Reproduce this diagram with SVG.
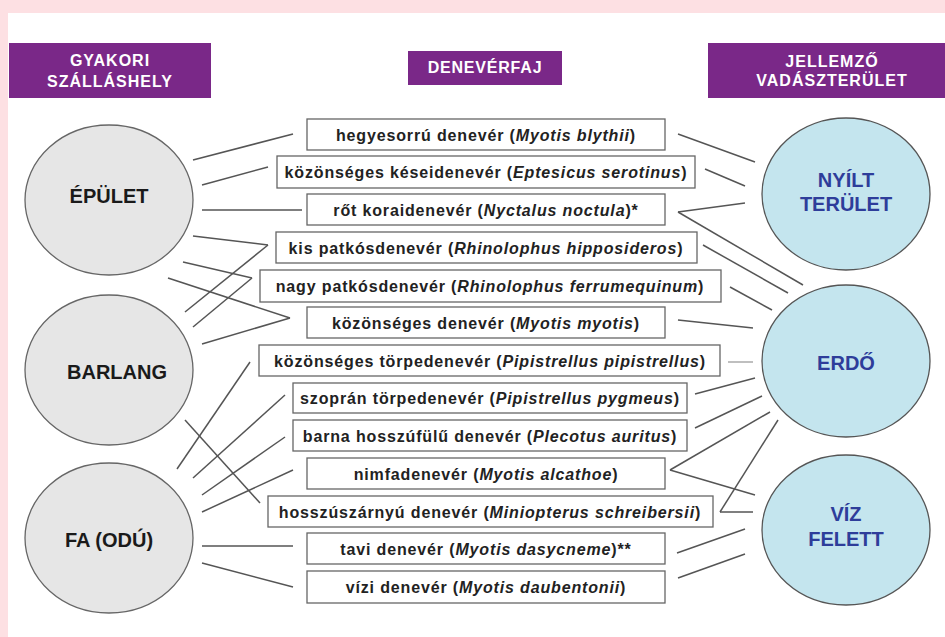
<svg xmlns="http://www.w3.org/2000/svg" width="945" height="637" viewBox="0 0 945 637">
<style>
.hdr{fill:#7a2888}
.ht{font-family:"Liberation Sans",Arial,sans-serif;font-weight:bold;font-size:16px;fill:#fff;text-anchor:middle;letter-spacing:1px}
.lc{fill:#e6e6e6;stroke:#666;stroke-width:1.3}
.rc{fill:#c4e5ee;stroke:#555;stroke-width:1.3}
.lt{font-family:"Liberation Sans",Arial,sans-serif;font-weight:bold;font-size:20px;fill:#1a1a1a;text-anchor:middle}
.rt{font-family:"Liberation Sans",Arial,sans-serif;font-weight:bold;font-size:20px;fill:#2e3d9a;text-anchor:middle}
.box{fill:#fff;stroke:#666;stroke-width:1.3}
.bt{font-family:"Liberation Sans",Arial,sans-serif;font-weight:bold;font-size:16px;letter-spacing:0.85px;fill:#222;text-anchor:middle}
.bt tspan.i{font-style:italic}
.con line{stroke:#555;stroke-width:1.5}
</style>
<rect x="0" y="0" width="945" height="637" fill="#fde0e3"/>
<rect x="8" y="13" width="937" height="624" fill="#fff"/>

<g id="hdr-left"><rect class="hdr" x="9" y="43" width="202" height="55"/><text class="ht" x="110" y="66">GYAKORI</text><text class="ht" x="110" y="87">SZÁLLÁSHELY</text></g>
<g id="hdr-mid"><rect class="hdr" x="408" y="51" width="154" height="34"/><text class="ht" x="485" y="73" style="letter-spacing:0.8px">DENEVÉRFAJ</text></g>
<g id="hdr-right"><rect class="hdr" x="708" y="43" width="237" height="55"/><text class="ht" x="832" y="67">JELLEMZŐ</text><text class="ht" x="832" y="86">VADÁSZTERÜLET</text></g>

<g class="con" id="connectors">
<line x1="193" y1="160" x2="293" y2="134"/>
<line x1="202" y1="185" x2="268" y2="167"/>
<line x1="202" y1="210" x2="302" y2="210"/>
<line x1="193" y1="236" x2="268" y2="245"/>
<line x1="185" y1="312" x2="268" y2="245"/>
<line x1="183" y1="262" x2="252" y2="278"/>
<line x1="193" y1="327" x2="252" y2="278"/>
<line x1="168" y1="278" x2="290" y2="318"/>
<line x1="202" y1="344" x2="290" y2="318"/>
<line x1="177" y1="469" x2="250" y2="362"/>
<line x1="193" y1="478" x2="285" y2="395"/>
<line x1="202" y1="495" x2="285" y2="437"/>
<line x1="202" y1="512" x2="293" y2="470"/>
<line x1="185" y1="420" x2="260" y2="503"/>
<line x1="202" y1="546" x2="293" y2="546"/>
<line x1="202" y1="563" x2="293" y2="587"/>
<line x1="678" y1="134" x2="755" y2="162"/>
<line x1="705" y1="169" x2="745" y2="186"/>
<line x1="678" y1="212" x2="745" y2="203"/>
<line x1="678" y1="212" x2="803" y2="285"/>
<line x1="703" y1="245" x2="788" y2="293"/>
<line x1="730" y1="287" x2="772" y2="310"/>
<line x1="678" y1="320" x2="753" y2="328"/>
<line x1="728" y1="362" x2="753" y2="362" style="stroke:#aaa"/>
<line x1="695" y1="394" x2="755" y2="378"/>
<line x1="695" y1="428" x2="762" y2="396"/>
<line x1="670" y1="470" x2="770" y2="412"/>
<line x1="670" y1="470" x2="755" y2="495"/>
<line x1="720" y1="512" x2="778" y2="420"/>
<line x1="720" y1="512" x2="753" y2="512"/>
<line x1="677" y1="553" x2="745" y2="529"/>
<line x1="678" y1="578" x2="745" y2="554"/>
</g>

<g id="n-epulet"><ellipse class="lc" cx="109" cy="200" rx="84" ry="75"/><text class="lt" x="109" y="203">ÉPÜLET</text></g>
<g id="n-barlang"><ellipse class="lc" cx="109" cy="370" rx="84" ry="75"/><text class="lt" x="117" y="379">BARLANG</text></g>
<g id="n-fa"><ellipse class="lc" cx="109" cy="538" rx="84" ry="75"/><text class="lt" x="109" y="547">FA (ODÚ)</text></g>

<g id="n-nyilt"><ellipse class="rc" cx="846" cy="194" rx="84" ry="76"/><text class="rt" x="846" y="187">NYÍLT</text><text class="rt" x="846" y="211">TERÜLET</text></g>
<g id="n-erdo"><ellipse class="rc" cx="846" cy="361" rx="84" ry="76"/><text class="rt" x="846" y="370">ERDŐ</text></g>
<g id="n-viz"><ellipse class="rc" cx="846" cy="530" rx="84" ry="75"/><text class="rt" x="846" y="521">VÍZ</text><text class="rt" x="846" y="546">FELETT</text></g>

<g id="b1"><rect class="box" x="307" y="119" width="358" height="31"/><text class="bt" x="486" y="141">hegyesorrú denevér (<tspan class="i">Myotis blythii</tspan>)</text></g>
<g id="b2"><rect class="box" x="277" y="156" width="418" height="32"/><text class="bt" x="486" y="178">közönséges késeidenevér (<tspan class="i">Eptesicus serotinus</tspan>)</text></g>
<g id="b3"><rect class="box" x="307" y="194" width="358" height="31"/><text class="bt" x="486" y="216">rőt koraidenevér (<tspan class="i">Nyctalus noctula</tspan>)*</text></g>
<g id="b4"><rect class="box" x="276" y="232" width="421" height="31"/><text class="bt" x="486" y="254">kis patkósdenevér (<tspan class="i">Rhinolophus hipposideros</tspan>)</text></g>
<g id="b5"><rect class="box" x="260" y="270" width="461" height="32"/><text class="bt" x="490" y="292">nagy patkósdenevér (<tspan class="i">Rhinolophus ferrumequinum</tspan>)</text></g>
<g id="b6"><rect class="box" x="307" y="307" width="358" height="31"/><text class="bt" x="486" y="329">közönséges denevér (<tspan class="i">Myotis myotis</tspan>)</text></g>
<g id="b7"><rect class="box" x="259" y="345" width="461" height="31"/><text class="bt" x="490" y="367">közönséges törpedenevér (<tspan class="i">Pipistrellus pipistrellus</tspan>)</text></g>
<g id="b8"><rect class="box" x="293" y="383" width="394" height="30"/><text class="bt" x="490" y="404">szoprán törpedenevér (<tspan class="i">Pipistrellus pygmeus</tspan>)</text></g>
<g id="b9"><rect class="box" x="293" y="420" width="394" height="31"/><text class="bt" x="490" y="442">barna hosszúfülű denevér (<tspan class="i">Plecotus auritus</tspan>)</text></g>
<g id="b10"><rect class="box" x="307" y="458" width="358" height="31"/><text class="bt" x="486" y="480">nimfadenevér (<tspan class="i">Myotis alcathoe</tspan>)</text></g>
<g id="b11"><rect class="box" x="268" y="496" width="445" height="31"/><text class="bt" x="490" y="518">hosszúszárnyú denevér (<tspan class="i">Miniopterus schreibersii</tspan>)</text></g>
<g id="b12"><rect class="box" x="307" y="533" width="358" height="31"/><text class="bt" x="486" y="555">tavi denevér (<tspan class="i">Myotis dasycneme</tspan>)**</text></g>
<g id="b13"><rect class="box" x="307" y="571" width="358" height="32"/><text class="bt" x="486" y="593">vízi denevér (<tspan class="i">Myotis daubentonii</tspan>)</text></g>
</svg>
